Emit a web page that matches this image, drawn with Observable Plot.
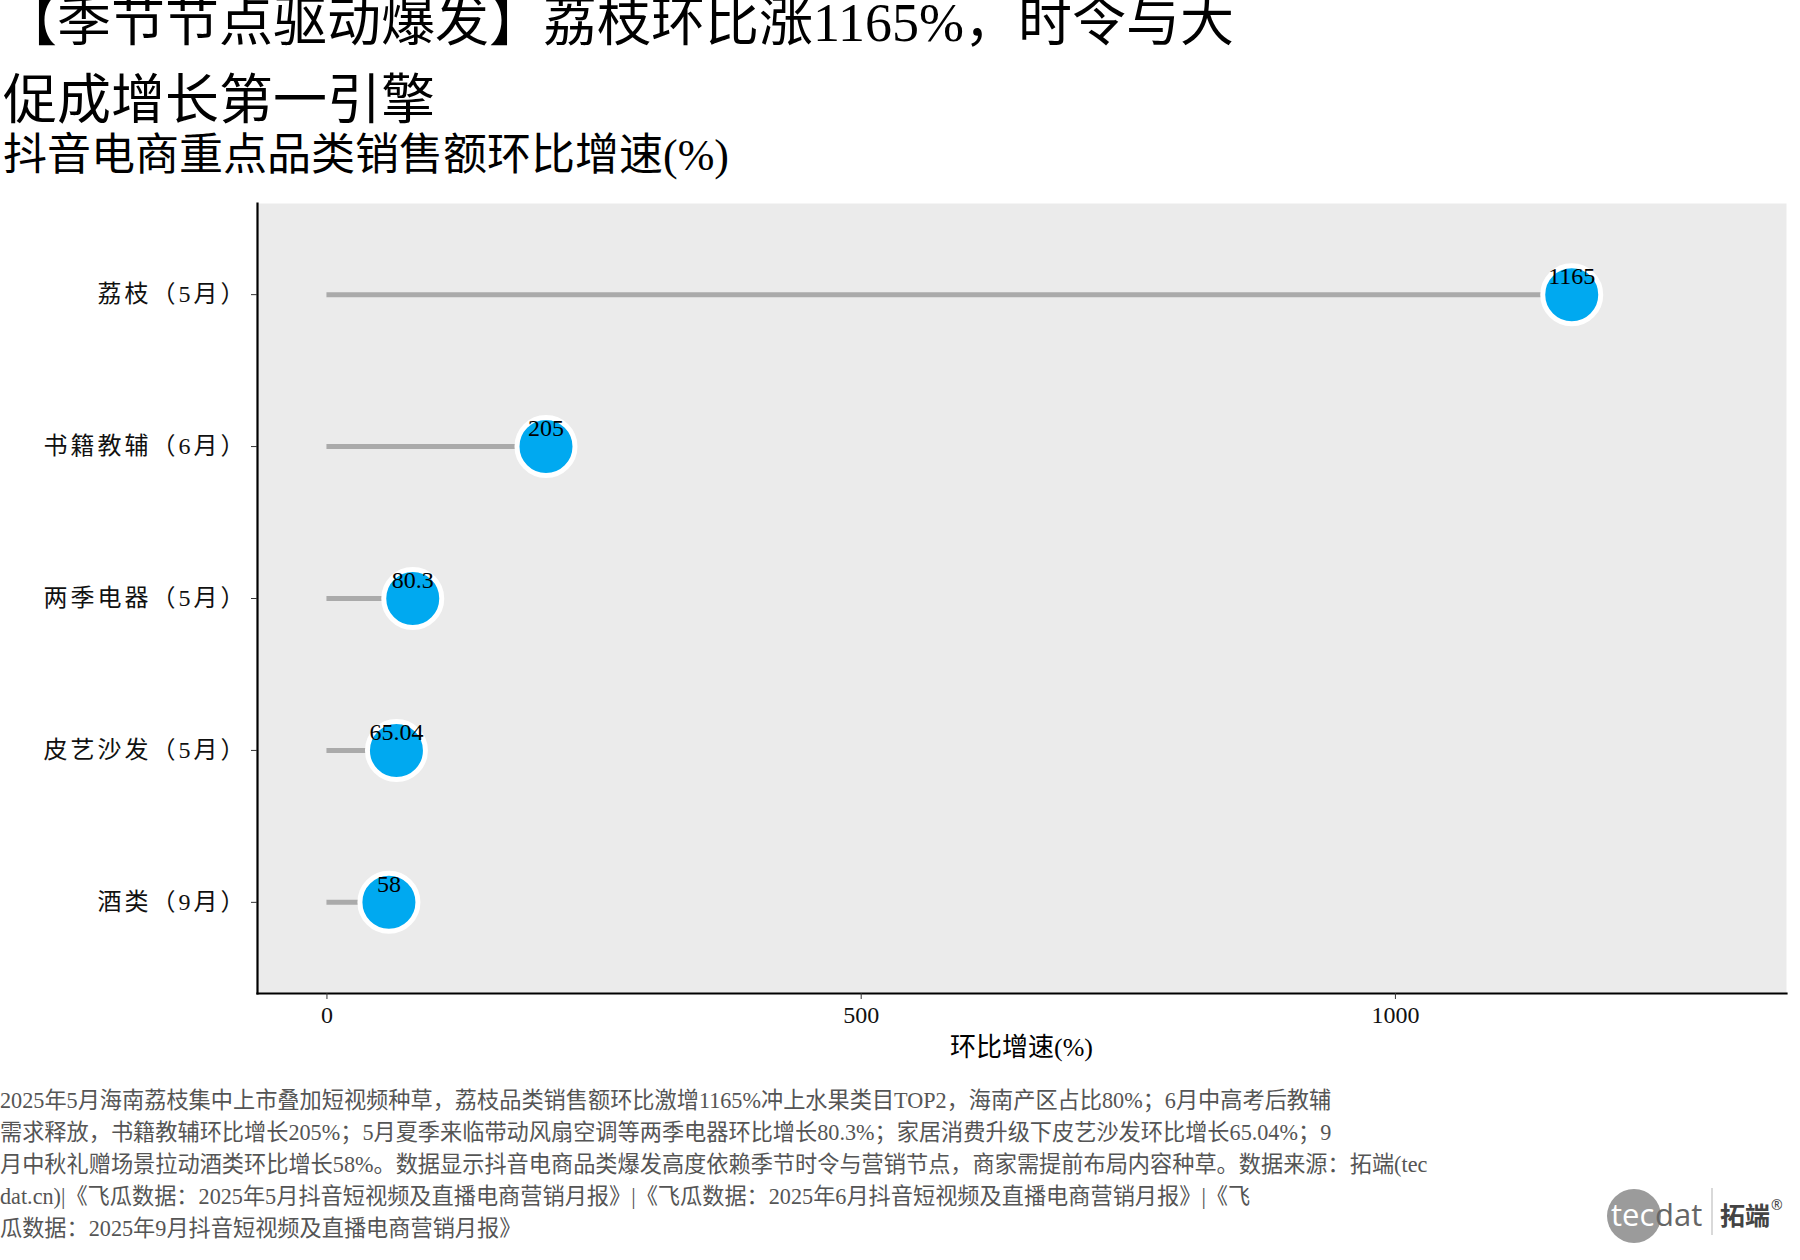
<!DOCTYPE html>
<html><head><meta charset="utf-8">
<script src="https://cdn.jsdelivr.net/npm/d3@7"></script>
<script src="https://cdn.jsdelivr.net/npm/@observablehq/plot@0.6"></script>
<style>
html,body{margin:0;padding:0;background:#fff;}
#wrap{position:relative;width:1800px;height:1260px;overflow:hidden;}
#chart{position:absolute;left:0;top:180px;}
#overlay{position:absolute;left:0;top:0;}
#chart svg g[aria-label="y-axis tick label"] text{letter-spacing:3px;}
</style></head><body><div id="wrap"><div id="chart"></div><svg id="overlay" width="1800" height="1260"></svg></div>
<script>
// ---- data ----
const categories = ["荔枝（5月）", "书籍教辅（6月）", "两季电器（5月）", "皮艺沙发（5月）", "酒类（9月）"];
const growth = [1165, 205, 80.3, 65.04, 58];
const xTicks = [0, 500, 1000];
const titleLines = ["【季节节点驱动爆发】荔枝环比涨1165%，时令与大", "促成增长第一引擎"];
const subtitle = "抖音电商重点品类销售额环比增速(%)";
const xLabel = "环比增速(%)";
const captionLines = [
  "2025年5月海南荔枝集中上市叠加短视频种草，荔枝品类销售额环比激增1165%冲上水果类目TOP2，海南产区占比80%；6月中高考后教辅",
  "需求释放，书籍教辅环比增长205%；5月夏季来临带动风扇空调等两季电器环比增长80.3%；家居消费升级下皮艺沙发环比增长65.04%；9",
  "月中秋礼赠场景拉动酒类环比增长58%。数据显示抖音电商品类爆发高度依赖季节时令与营销节点，商家需提前布局内容种草。数据来源：拓端(tec",
  "dat.cn)|《飞瓜数据：2025年5月抖音短视频及直播电商营销月报》|《飞瓜数据：2025年6月抖音短视频及直播电商营销月报》|《飞",
  "瓜数据：2025年9月抖音短视频及直播电商营销月报》"
];

const data = categories.map((c, i) => ({cat: c, value: growth[i]}));
const FONT = "'Liberation Serif','Noto Sans CJK SC',serif";
const xDomain = [-65, 1366];

const chart = Plot.plot({
  width: 1800, height: 900,
  marginTop: 23, marginBottom: 87, marginLeft: 257, marginRight: 14,
  style: {fontFamily: FONT, fontSize: "24px", color: "#000", background: "transparent", overflow: "visible"},
  x: {domain: xDomain, ticks: xTicks},
  y: {type: "point", domain: categories, padding: 0.6, round: false},
  marks: [
    Plot.frame({fill: "#EBEBEB"}),
    Plot.frame({anchor: "left", stroke: "#000", strokeWidth: 2.2}),
    Plot.frame({anchor: "bottom", stroke: "#000", strokeWidth: 2.2}),
    Plot.axisX({ticks: xTicks, tickFormat: d => String(d), tickSize: 6, tickPadding: 6, fontSize: 24, label: null, stroke: "#333", fill: "#111"}),
    Plot.axisY({tickSize: 6, tickPadding: 4, fontSize: 24, label: null, stroke: "#333", fill: "#111"}),
    Plot.ruleY(data, {y: "cat", x1: 0, x2: "value", stroke: "#AAAAAA", strokeWidth: 5}),
    Plot.dot(data, {y: "cat", x: "value", r: 29, fill: "#00A9F0", stroke: "#fff", strokeWidth: 5}),
    Plot.text(data, {y: "cat", x: "value", text: d => String(d.value), dy: -18, fontSize: 24, fill: "#000"})
  ]
});
document.getElementById("chart").appendChild(chart);

// ---- overlay texts ----
const ov = d3.select("#overlay").style("font-family", FONT);
titleLines.forEach((t, i) => {
  ov.append("text").attr("x", 3).attr("y", 41 + i * 78).attr("font-size", 54).attr("fill", "#000").text(t);
});
ov.append("text").attr("x", 3).attr("y", 170).attr("font-size", 44).attr("fill", "#000").text(subtitle);
ov.append("text").attr("x", (257 + 1786) / 2).attr("y", 1056).attr("text-anchor", "middle")
  .attr("font-size", 26).attr("fill", "#000").text(xLabel);
captionLines.forEach((t, i) => {
  ov.append("text").attr("x", 0).attr("y", 1108 + i * 32).attr("font-size", 22.2).attr("fill", "#555").text(t);
});
// logo
const lg = ov.append("g").style("font-family", "'Open Sans','DejaVu Sans',sans-serif");
lg.append("circle").attr("cx", 1634).attr("cy", 1216).attr("r", 27).attr("fill", "#9b9b9b");
lg.append("text").attr("x", 1611).attr("y", 1226).attr("font-size", 31).attr("fill", "#fff").text("tec");
lg.append("text").attr("x", 1655).attr("y", 1226).attr("font-size", 31).attr("fill", "#666").text("dat");
lg.append("line").attr("x1", 1712).attr("x2", 1712).attr("y1", 1188).attr("y2", 1235).attr("stroke", "#ccc").attr("stroke-width", 1.5);
lg.append("text").attr("x", 1720).attr("y", 1225).attr("font-size", 25).attr("font-weight", "bold")
  .style("font-family", "'Noto Sans CJK SC',sans-serif").attr("fill", "#444").text("拓端");
lg.append("text").attr("x", 1771).attr("y", 1210).attr("font-size", 14).attr("fill", "#444").text("®");
</script></body></html>
